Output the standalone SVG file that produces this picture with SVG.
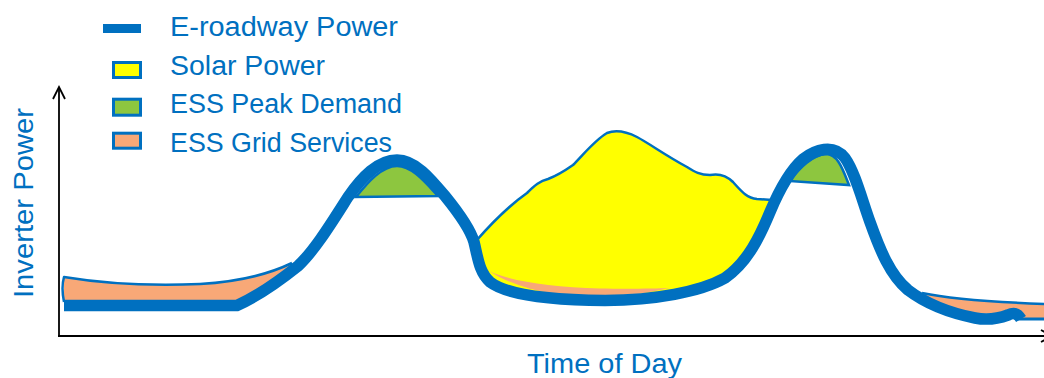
<svg xmlns="http://www.w3.org/2000/svg" width="1044" height="378" viewBox="0 0 1044 378">
<style>
.lbl{font-family:"Liberation Sans",Arial,sans-serif;font-size:27px;fill:#0070C0}
.ax{fill:none;stroke:#000;stroke-width:1.8}
.band{fill:none;stroke:#0070C0;stroke-width:11.5;stroke-linejoin:round;stroke-linecap:butt}
.thin{fill:none;stroke:#0070C0;stroke-width:2.5;stroke-linejoin:round}
.solar{fill:#FFFF00}
.peak{fill:#8DC63F;stroke:#0070C0;stroke-width:2.5}
.grid{fill:#F8A877}
</style>
<rect width="1044" height="378" fill="#fff"/>
<g id="axes">
  <line class="ax" x1="59" y1="88" x2="59" y2="336"/>
  <polyline class="ax" points="53,99 59,87 65,99"/>
  <line class="ax" x1="58" y1="336" x2="1052" y2="336"/>
  <polyline class="ax" points="1041,330 1052,336 1041,342"/>
  <text class="lbl" transform="translate(32.5,298) rotate(-90)" textLength="190" lengthAdjust="spacingAndGlyphs">Inverter Power</text>
  <text class="lbl" x="527" y="373" textLength="155" lengthAdjust="spacingAndGlyphs">Time of Day</text>
</g>
<g id="legend">
  <g id="legend-eroadway">
    <line x1="103" y1="28.5" x2="141" y2="28.5" stroke="#0070C0" stroke-width="9"/>
    <text class="lbl" x="170" y="36" textLength="228" lengthAdjust="spacingAndGlyphs">E-roadway Power</text>
  </g>
  <g id="legend-solar">
    <rect x="113.5" y="62.5" width="27" height="15" fill="#FFFF00" stroke="#0070C0" stroke-width="3"/>
    <text class="lbl" x="170" y="75" textLength="155" lengthAdjust="spacingAndGlyphs">Solar Power</text>
  </g>
  <g id="legend-peak">
    <rect x="113.5" y="99.2" width="27" height="16" fill="#8DC63F" stroke="#0070C0" stroke-width="3"/>
    <text class="lbl" x="170" y="113" textLength="232" lengthAdjust="spacingAndGlyphs">ESS Peak Demand</text>
  </g>
  <g id="legend-grid">
    <rect x="113.5" y="133.2" width="27" height="15" fill="#F8A877" stroke="#0070C0" stroke-width="3"/>
    <text class="lbl" x="170" y="152" textLength="222" lengthAdjust="spacingAndGlyphs">ESS Grid Services</text>
  </g>
</g>
<g id="series">
  <g id="grid-left">
    <path class="grid" d="M64,277 C100,283 150,286 200,284 C235,282 265,276 292,263 L298,268 L237,305 L64,305 Z"/>
    <path class="thin" d="M64,302 C62,292 62,284 64,277 C100,283 150,286 200,284 C235,282 265,276 292,263"/>
  </g>
  <g id="grid-right">
    <path class="grid" d="M922,293 C950,299 990,302 1044,304 L1044,318.5 L1021,318.5 C1016,311 1010,309 1003,312 C990,316 965,313 945,306 C935,301 928,297 922,293 Z"/>
    <path class="thin" d="M922,293 C950,299 990,302 1044,304"/>
    <line x1="1016" y1="319" x2="1044" y2="319" stroke="#0070C0" stroke-width="3"/>
  </g>
  <g id="solar">
    <path class="solar" d="M478,239 C490,225 510,205 527,193 C535,185 540,181 548,179 C556,176 563,172 573,165 C583,155 595,140 607,133 C615,130 625,131 637,137 C650,144 665,155 687,167 C695,172 700,175 710,175 C720,173 727,176 733,182 C742,192 747,198 757,199 L772,200 C765,235 748,265 722,280 C692,293 640,296 600,296 C560,296 520,290 495,282 C482,272 479,258 478,239 Z"/>
    <path class="thin" d="M476,241 C490,225 510,205 527,193 C535,185 540,181 548,179 C556,176 563,172 573,165 C583,155 595,140 607,133 C615,130 625,131 637,137 C650,144 665,155 687,167 C695,172 700,175 710,175 C720,173 727,176 733,182 C742,192 747,198 757,199 L772,200"/>
  </g>
  <g id="grid-mid">
    <path class="grid" d="M489,271 C510,281 550,287 600,288.5 C630,289 655,288.5 670,288 C650,292 630,297 600,297 C560,297 520,291 489,271 Z"/>
  </g>
  <g id="peak-left">
    <path class="peak" d="M356,197 C368,182 382,166 397,166 C412,166 425,182 438,196 Z"/>
  </g>
  <g id="peak-right">
    <path class="peak" d="M789,181 C800,168 812,155 826,154 C838,154 843,170 849,185 Z"/>
  </g>
  <g id="eroadway">
    <path class="band" d="M64,305.5 L237,305.5 C258,296 278,282 298,266 C315,250 332,222 348,197 C362,177 378,160 397,160 C415,160 430,178 445,196 C458,212 470,228 474,242 C478,258 479,272 490,282 C508,296 555,300 605,300.5 C655,300 700,292 725,278 C748,262 760,236 770,212 C778,193 788,172 803,159 C815,150 833,143 845,158 C855,172 862,200 870,222 C880,250 890,275 908,290 C925,303 950,313 975,318 C990,321 1000,318 1008,315 C1014,312 1018,314 1021,319"/>
  </g>
</g>
</svg>
